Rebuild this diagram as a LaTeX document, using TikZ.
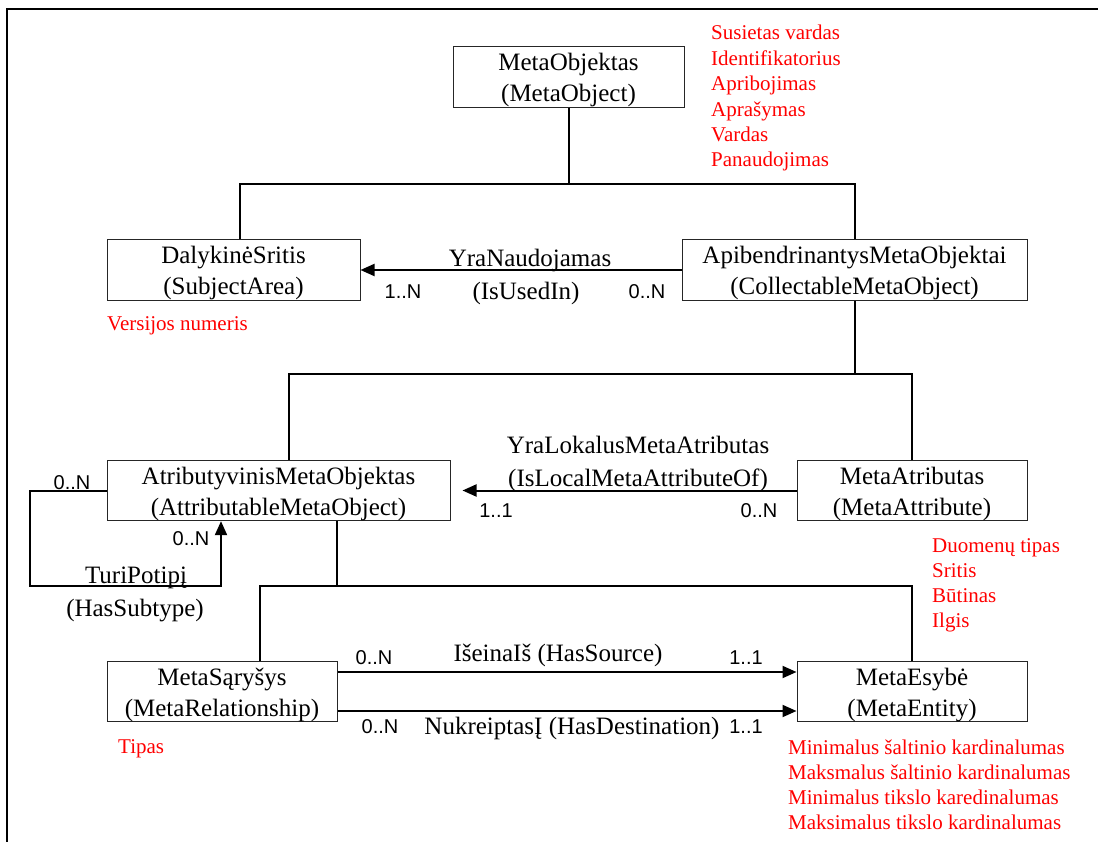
\documentclass[tikz,border=0pt]{standalone}
\usepackage{fontspec}
\setmainfont{Liberation Serif}
\newfontfamily\cardfont{Liberation Sans}
\usetikzlibrary{arrows.meta}
\definecolor{attrred}{RGB}{255,0,0}
% two-line entity caption, first line given a taller strut so the pair sits centred
\newcommand{\entcap}[2]{#1\rule{0pt}{24pt}\\#2}
\begin{document}
\begin{tikzpicture}[x=1pt,y=-1pt,
  entity/.style={draw=black!85, line width=1pt, align=center, inner sep=0pt,
    minimum height=58pt, font=\fontsize{25}{31}\selectfont},
  conn/.style={line width=2pt},
  rel/.style={conn, -{Triangle[length=14pt,width=12pt]}},
  lbl/.style={inner sep=0pt, font=\fontsize{25}{31}\selectfont, text height=16pt, text depth=0pt},
  card/.style={inner sep=0pt, font=\cardfont\fontsize{20}{24}\selectfont, text height=14.3pt, text depth=0pt},
  attr/.style={inner sep=0pt, anchor=west, text=attrred, font=\fontsize{21}{25}\selectfont,
    text height=14pt, text depth=0pt}
]
\useasboundingbox (0,0) rectangle (1098,842);
% page frame
\draw[line width=2.5pt] (7,842) -- (7,9) -- (1098,9);

% entities
\node[entity, minimum width=231pt] (mo)  at (568.5,77)  {\entcap{MetaObjektas}{(MetaObject)}};
\node[entity, minimum width=253pt] (sa)  at (233.5,270) {\entcap{DalykinėSritis}{(SubjectArea)}};
\node[entity, minimum width=345pt] (cmo) at (854.5,270) {\entcap{ApibendrinantysMetaObjektai}{(CollectableMetaObject)}};
\node[entity, minimum width=343pt] (amo) at (278.5,490.5) {\entcap{AtributyvinisMetaObjektas}{(AttributableMetaObject)}};
\node[entity, minimum width=230pt] (ma)  at (912,490.5) {\entcap{MetaAtributas}{(MetaAttribute)}};
\node[entity, minimum width=230pt] (mr)  at (222,691.5) {\entcap{MetaSąryšys}{(MetaRelationship)}};
\node[entity, minimum width=230pt] (me)  at (912,691.5) {\entcap{MetaEsybė}{(MetaEntity)}};

% generalisation trees
\coordinate (bus1) at (567,184);
\draw[conn] (mo.south) -- (mo.south |- bus1);
\draw[conn] ([xshift=6.5pt]sa.north) |- (bus1) -| (cmo.north);
\coordinate (bus2) at (855,374);
\draw[conn] (cmo.south) -- (cmo.south |- bus2);
\draw[conn] ([xshift=10.5pt]amo.north) |- (bus2) -| (ma.north);
\coordinate (bus3) at (337,586);
\draw[conn] ([xshift=58.5pt]amo.south) -- (bus3);
\draw[conn] ([xshift=38pt]mr.north) |- (bus3) -| (me.north);

% associations
\draw[rel] (cmo.west) -- (sa.east);
\node[lbl] (uses1) at (530,259) {YraNaudojamas};
\node[lbl] (uses2) at (526,292) {(IsUsedIn)};
\node[card] (usesA) at (403,291) {1..N};
\node[card] (usesB) at (647,291) {0..N};

\draw[rel, shorten >=12pt] (ma.west) -- (amo.east);
\node[lbl] (loc1) at (638,445) {YraLokalusMetaAtributas};
\node[lbl] (loc2) at (638,478) {(IsLocalMetaAttributeOf)};
\node[card] (locA) at (496,510) {1..1};
\node[card] (locB) at (759,510) {0..N};

\coordinate (loop) at (30,586);
\draw[rel] (amo.west) -| (loop) -| ([xshift=-57.5pt]amo.south);
\node[card] (subA) at (72,482) {0..N};
\node[card] (subB) at (191,538) {0..N};
\node[lbl] (sub1) at (136,575) {TuriPotipį};
\node[lbl] (sub2) at (135,608) {(HasSubtype)};

\draw[rel] ([yshift=19.5pt]mr.east) -- ([yshift=19.5pt]me.west);
\draw[rel] ([yshift=-19.5pt]mr.east) -- ([yshift=-19.5pt]me.west);
\node[lbl] (src) at (558,653) {IšeinaIš (HasSource)};
\node[card] (srcA) at (374,657) {0..N};
\node[card] (srcB) at (746,657) {1..1};
\node[lbl] (dst) at (572,726) {NukreiptasĮ (HasDestination)};
\node[card] (dstA) at (380,726) {0..N};
\node[card] (dstB) at (746,726) {1..1};

% attribute lists
\foreach \t [count=\i] in {Susietas vardas, Identifikatorius, Apribojimas, Aprašymas, Vardas, Panaudojimas}
  \node[attr] (moattr\i) at (711,{33+25.4*(\i-1)}) {\t};
\node[attr] (saattr) at (107,324) {Versijos numeris};
\foreach \t [count=\i] in {Duomenų tipas, Sritis, Būtinas, Ilgis}
  \node[attr] (maattr\i) at (932,{545+25.3*(\i-1)}) {\t};
\node[attr] (mrattr) at (118,746) {Tipas};
\foreach \t [count=\i] in {Minimalus šaltinio kardinalumas, Maksmalus šaltinio kardinalumas, Minimalus tikslo karedinalumas, Maksimalus tikslo kardinalumas}
  \node[attr] (meattr\i) at (788,{747+25*(\i-1)}) {\t};
\end{tikzpicture}
\end{document}
